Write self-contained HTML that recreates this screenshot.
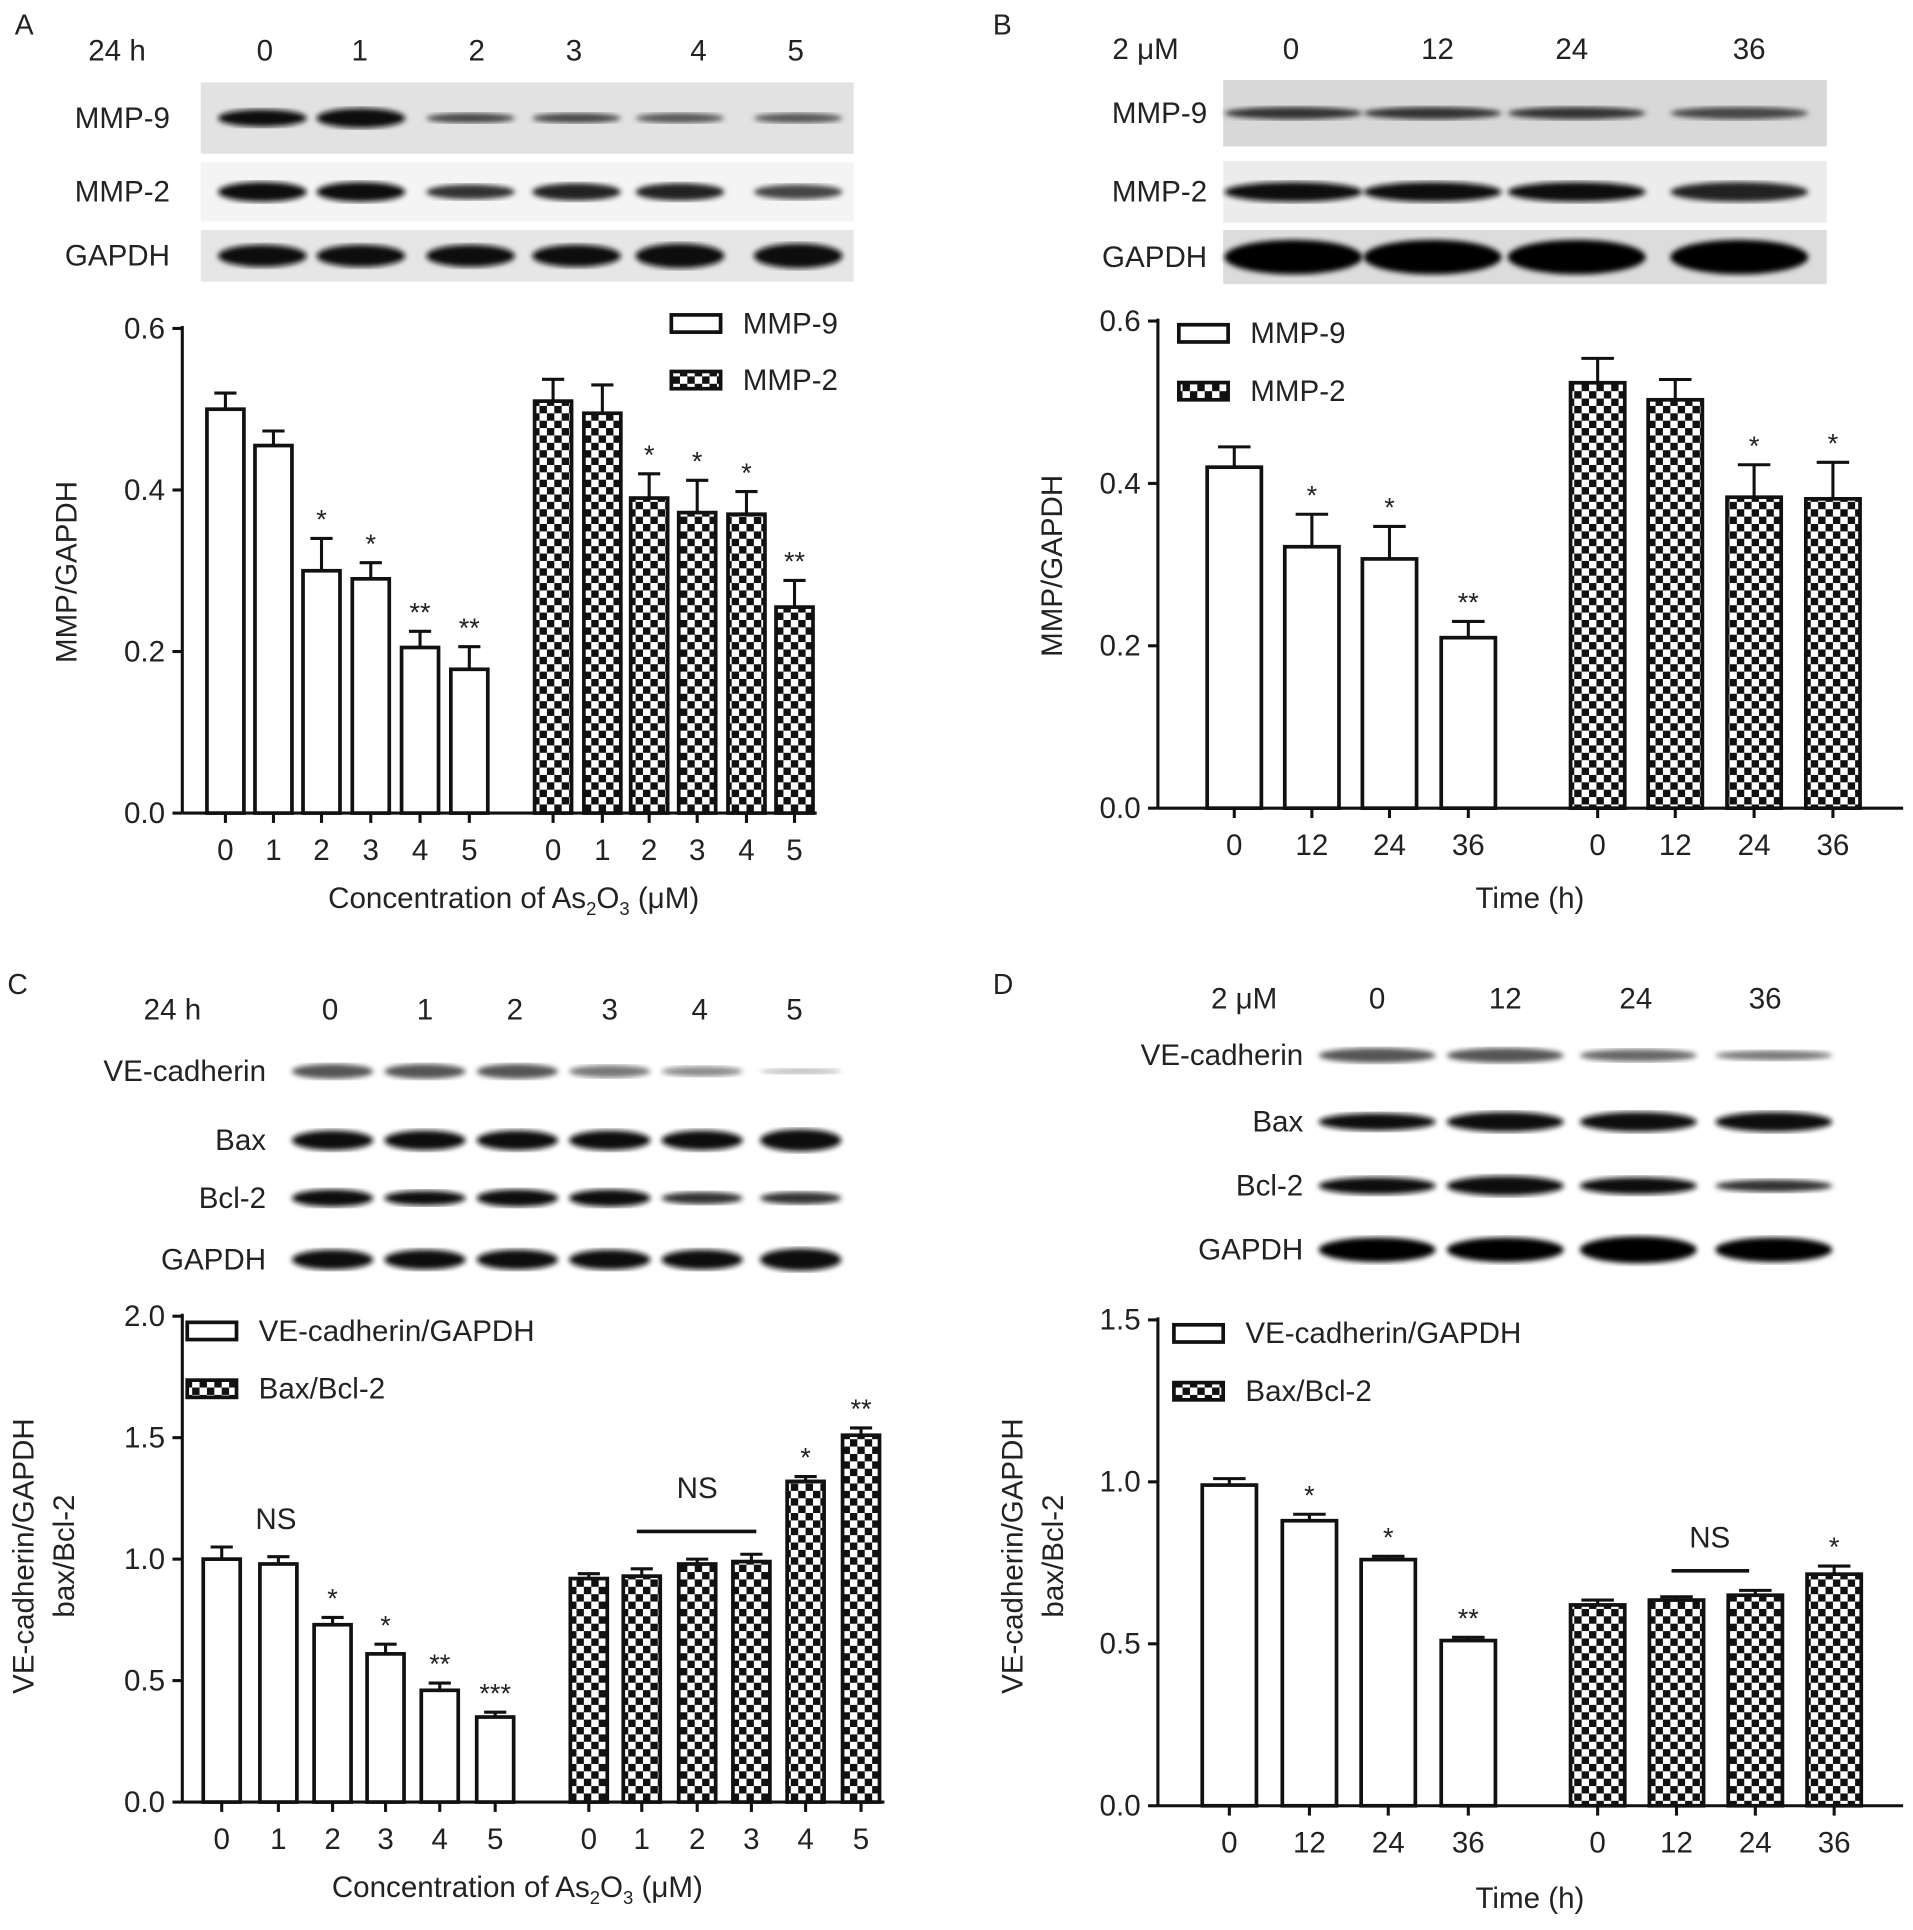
<!DOCTYPE html>
<html><head><meta charset="utf-8"><style>
html,body{margin:0;padding:0;background:#fff}
svg{display:block}
text{font-family:"Liberation Sans",Arial,sans-serif;fill:#222}
</style></head><body>
<svg id="fig" width="1913" height="1930" viewBox="0 0 1553 1569" preserveAspectRatio="none" xmlns="http://www.w3.org/2000/svg">
<defs>
<pattern id="chk" width="12" height="12" patternUnits="userSpaceOnUse">
<rect width="12" height="12" fill="#fff"/><rect width="6" height="6" fill="#111"/><rect x="6" y="6" width="6" height="6" fill="#111"/>
</pattern>
<filter id="blur"><feGaussianBlur stdDeviation="2.2"/></filter>
</defs>
<g id="root"></g>
</svg>
<script>
// ---------- data ----------
const aCats = ["0","1","2","3","4","5"];
const aMMP9 = [0.50,0.455,0.30,0.29,0.205,0.178];
const aMMP9err = [0.02,0.018,0.04,0.02,0.02,0.028];
const aMMP2 = [0.51,0.495,0.39,0.372,0.37,0.255];
const aMMP2err = [0.027,0.035,0.03,0.04,0.028,0.033];
const aSig1 = ["","","*","*","**","**"];
const aSig2 = ["","","*","*","*","**"];
const aTicks = [0,0.2,0.4,0.6];
const aTickLabels = ["0.0","0.2","0.4","0.6"];

const bCats = ["0","12","24","36"];
const bMMP9 = [0.42,0.322,0.307,0.21];
const bMMP9err = [0.025,0.04,0.04,0.02];
const bMMP2 = [0.524,0.503,0.383,0.381];
const bMMP2err = [0.03,0.025,0.04,0.045];
const bSig1 = ["","*","*","**"];
const bSig2 = ["","","*","*"];
const bTicks = [0,0.2,0.4,0.6];
const bTickLabels = ["0.0","0.2","0.4","0.6"];

const cCats = ["0","1","2","3","4","5"];
const cVE = [1.0,0.98,0.73,0.61,0.46,0.35];
const cVEerr = [0.05,0.03,0.03,0.04,0.03,0.02];
const cBax = [0.92,0.93,0.98,0.99,1.32,1.51];
const cBaxerr = [0.02,0.03,0.02,0.03,0.02,0.03];
const cSig1 = ["","","*","*","**","***"];
const cSig2 = ["","","","","*","**"];
const cTicks = [0,0.5,1.0,1.5,2.0];
const cTickLabels = ["0.0","0.5","1.0","1.5","2.0"];

const dCats = ["0","12","24","36"];
const dVE = [0.99,0.88,0.76,0.51];
const dVEerr = [0.02,0.02,0.01,0.01];
const dBax = [0.62,0.635,0.65,0.715];
const dBaxerr = [0.015,0.01,0.015,0.025];
const dSig1 = ["","*","*","**"];
const dSig2 = ["","","","*"];
const dTicks = [0,0.5,1.0,1.5];
const dTickLabels = ["0.0","0.5","1.0","1.5"];

// ---------- helpers ----------
const NS="http://www.w3.org/2000/svg";
const root=document.getElementById('root');
const FS=24;
function el(tag,attrs,parent){const e=document.createElementNS(NS,tag);for(const k in attrs)e.setAttribute(k,attrs[k]);(parent||root).appendChild(e);return e;}
function txt(x,y,s,size,anchor,parent,extra){const t=el('text',Object.assign({x:x,y:y,'font-size':size,'text-anchor':anchor||'middle'},extra||{}),parent);t.textContent=s;return t;}

function chart(cfg){
  const g=el('g',{});
  
  
  const y=v=>cfg.y0-(v/cfg.vmax)*(cfg.y0-cfg.y1);
  const ya=el('line',{x1:cfg.x0,y1:cfg.y1-2,x2:cfg.x0,y2:cfg.y0,stroke:'#111','stroke-width':2.5},g);
  
  
  const xa=el('line',{x1:cfg.x0,y1:cfg.y0,x2:cfg.xEnd,y2:cfg.y0,stroke:'#111','stroke-width':2.5},g);
  
  
  cfg.ticks.forEach((v,i)=>{
    el('line',{x1:cfg.x0-8,y1:y(v),x2:cfg.x0,y2:y(v),stroke:'#111','stroke-width':2.5},g);
    const t=txt(cfg.x0-14,y(v)+8,cfg.tickLabels[i],FS,'end',g);
    
    
  });
  const series=[[cfg.s1,cfg.e1,cfg.c1,cfg.sig1,'#fff'],[cfg.s2,cfg.e2,cfg.c2,cfg.sig2,'url(#chk)']];
  series.forEach((s,si)=>{
    s[0].forEach((v,i)=>{
      const cx=s[2][i];
      const top=y(v), eTop=y(v+s[1][i]);
      el('line',{x1:cx,y1:eTop,x2:cx,y2:top,stroke:'#111','stroke-width':2.5},g);
      el('line',{x1:cx-cfg.bw*0.3,y1:eTop,x2:cx+cfg.bw*0.3,y2:eTop,stroke:'#111','stroke-width':2.5},g);
      const r=el('rect',{x:cx-cfg.bw/2,y:top,width:cfg.bw,height:cfg.y0-top,fill:s[4],stroke:'#111','stroke-width':3},g);
      
      
      el('line',{x1:cx,y1:cfg.y0,x2:cx,y2:cfg.y0+8,stroke:'#111','stroke-width':2.5},g);
      const tl=txt(cx,cfg.y0+38,cfg.cats[i],FS,'middle',g);
      
      
      if(s[3][i]){
        const st=txt(cx,eTop-8,s[3][i],22,'middle',g,{fill:'#555'});
        
        
      }
    });
  });
  [[cfg.l1,'#fff'],[cfg.l2,'url(#chk)']].forEach((l,i)=>{
    const ly=cfg.ly+i*cfg.lgap;
    const lr=el('rect',{x:cfg.lx,y:ly,width:40,height:14,fill:l[1],stroke:'#111','stroke-width':3},g);
    
    
    const lt=txt(cfg.lx+58,ly+15,l[0],FS,'start',g);
    
    
  });
  return {g,y};
}

function blot(cfg){
  const g=el('g',{});
  
  
  cfg.rows.forEach(r=>{
    if(r.bg){el('rect',{x:cfg.bx0,y:r.yc-r.h/2,width:cfg.bx1-cfg.bx0,height:r.h,fill:r.bg},g);}
    const lab=txt(cfg.labX,r.yc+8,r.label,FS,cfg.labAnchor||'end',g);
    
    
    cfg.lanes.forEach((lx,i)=>{
      const b=el('ellipse',{cx:lx,cy:r.yc,rx:cfg.bandW/2,ry:r.bh[i],fill:r.col[i],filter:'url(#blur)'},g);
      
      
    });
  });
  const hl=txt(cfg.hx,cfg.hy,cfg.head,FS,'middle',g);
  
  
  cfg.laneLabels.forEach((s,i)=>{
    const t=txt(cfg.laneLabelX[i],cfg.hy,s,FS,'middle',g);
    
    
  });
}

[["A",12,28],["B",806,28],["C",6,808],["D",806,808]].forEach(p=>{
  const t=txt(p[1],p[2],p[0],23,'start');
  
  
});

// ---------- blots ----------
blot({name:'blot-a',bx0:163,bx1:693,lanes:[213,293,382,468,552,648],bandW:72,head:'24 h',hx:95,hy:49,
  laneLabels:aCats,laneLabelX:[215,292,387,466,567,646],labX:138,
  rows:[
   {label:'MMP-9',yc:96,h:58,bg:'#e2e2e2',bh:[7,8,4,4,4,4],col:['#111','#0a0a0a','#444','#444','#555','#555']},
   {label:'MMP-2',yc:156,h:48,bg:'#f4f4f4',bh:[8,8,6,7,7,6],col:['#111','#111','#333','#222','#222','#444']},
   {label:'GAPDH',yc:208,h:42,bg:'#e6e6e6',bh:[9,9,9,9,10,10],col:['#0a0a0a','#0a0a0a','#0a0a0a','#0a0a0a','#0a0a0a','#0a0a0a']}
  ]});
blot({name:'blot-b',bx0:993,bx1:1483,lanes:[1050,1163,1280,1412],bandW:112,head:'2 μM',hx:930,hy:48,
  laneLabels:bCats,laneLabelX:[1048,1167,1276,1420],labX:980,
  rows:[
   {label:'MMP-9',yc:92,h:54,bg:'#d8d8d8',bh:[5,5,5,5],col:['#333','#333','#333','#444']},
   {label:'MMP-2',yc:156,h:50,bg:'#ececec',bh:[8,8,8,8],col:['#111','#111','#111','#222']},
   {label:'GAPDH',yc:209,h:44,bg:'#dcdcdc',bh:[14,14,14,14],col:['#000','#000','#000','#000']}
  ]});
blot({name:'blot-c',lanes:[270,345,420,495,570,650],bandW:66,head:'24 h',hx:140,hy:829,
  laneLabels:cCats,laneLabelX:[268,345,418,495,568,645],labX:216,
  rows:[
   {label:'VE-cadherin',yc:871,bh:[6,6,6,5,4,2],col:['#555','#555','#555','#777','#888','#aaa']},
   {label:'Bax',yc:927,bh:[8,8,8,8,8,9],col:['#111','#111','#111','#111','#111','#111']},
   {label:'Bcl-2',yc:974,bh:[7,6,7,7,5,5],col:['#111','#111','#111','#111','#333','#333']},
   {label:'GAPDH',yc:1024,bh:[8,8,8,8,8,9],col:['#111','#111','#111','#111','#111','#111']}
  ]});
blot({name:'blot-d',lanes:[1118,1222,1330,1440],bandW:95,head:'2 μM',hx:1010,hy:820,
  laneLabels:dCats,laneLabelX:[1118,1222,1328,1433],labX:1058,
  rows:[
   {label:'VE-cadherin',yc:858,bh:[6,6,5,4],col:['#555','#555','#666','#777']},
   {label:'Bax',yc:912,bh:[7,8,8,8],col:['#111','#111','#111','#111']},
   {label:'Bcl-2',yc:964,bh:[7,8,7,5],col:['#111','#111','#111','#333']},
   {label:'GAPDH',yc:1016,bh:[10,10,11,10],col:['#000','#000','#000','#000']}
  ]});

// ---------- charts ----------
chart({name:'chart-a',x0:148,xEnd:663,y0:661,y1:267,vmax:0.6,ticks:aTicks,tickLabels:aTickLabels,bw:30,
  cats:aCats,s1:aMMP9,e1:aMMP9err,s2:aMMP2,e2:aMMP2err,sig1:aSig1,sig2:aSig2,n1:'mmp9',n2:'mmp2',
  c1:[183,222,261,301,341,381],c2:[449,489,527,566,606,645],l1:'MMP-9',l2:'MMP-2',lx:545,ly:256,lgap:46});
chart({name:'chart-b',x0:940,xEnd:1545,y0:657,y1:261,vmax:0.6,ticks:bTicks,tickLabels:bTickLabels,bw:44,
  cats:bCats,s1:bMMP9,e1:bMMP9err,s2:bMMP2,e2:bMMP2err,sig1:bSig1,sig2:bSig2,n1:'mmp9',n2:'mmp2',
  c1:[1002,1065,1128,1192],c2:[1297,1360,1424,1488],l1:'MMP-9',l2:'MMP-2',lx:957,ly:264,lgap:47});
chart({name:'chart-c',x0:148,xEnd:718,y0:1465,y1:1070,vmax:2.0,ticks:cTicks,tickLabels:cTickLabels,bw:30,
  cats:cCats,s1:cVE,e1:cVEerr,s2:cBax,e2:cBaxerr,sig1:cSig1,sig2:cSig2,n1:'ve-cadherin',n2:'bax-bcl2',
  c1:[180,226,270,313,357,402],c2:[478,521,566,610,654,699],l1:'VE-cadherin/GAPDH',l2:'Bax/Bcl-2',lx:152,ly:1075,lgap:47});
chart({name:'chart-d',x0:940,xEnd:1545,y0:1468,y1:1073,vmax:1.5,ticks:dTicks,tickLabels:dTickLabels,bw:44,
  cats:dCats,s1:dVE,e1:dVEerr,s2:dBax,e2:dBaxerr,sig1:dSig1,sig2:dSig2,n1:'ve-cadherin',n2:'bax-bcl2',
  c1:[998,1063,1127,1192],c2:[1297,1361,1425,1489],l1:'VE-cadherin/GAPDH',l2:'Bax/Bcl-2',lx:953,ly:1077,lgap:47});

function ns(x1,x2,yl,tx,ty,name){
  if(x2>x1){const l=el('line',{x1:x1,y1:yl,x2:x2,y2:yl,stroke:'#111','stroke-width':3});
  
  }
  const t=txt(tx,ty,'NS',FS,'middle');
  
  
}
ns(0,0,0,224,1243,'ns-label-c1');
ns(517,614,1245,566,1218,'ns-label-c2');
ns(1357,1420,1277,1388,1258,'ns-label-d');

function ytitle(x,yc,s,name){const t=txt(x,yc,s,FS,'middle',null,{transform:'rotate(-90 '+x+' '+yc+')'});
  
  }
ytitle(62,465,'MMP/GAPDH','y-axis-title-a');
ytitle(862,460,'MMP/GAPDH','y-axis-title-b');
ytitle(27,1265,'VE-cadherin/GAPDH','y-axis-title-c');
ytitle(60,1265,'bax/Bcl-2','y-axis-title-c2');
ytitle(830,1265,'VE-cadherin/GAPDH','y-axis-title-d');
ytitle(863,1265,'bax/Bcl-2','y-axis-title-d2');

function xtitleConc(cx,y,name){
  const t=el('text',{x:cx,y:y,'font-size':FS,'text-anchor':'middle'});
  
  
  t.innerHTML='Concentration of As<tspan dy="6" font-size="15">2</tspan><tspan dy="-6">O</tspan><tspan dy="6" font-size="15">3</tspan><tspan dy="-6"> (μM)</tspan>';
}
xtitleConc(417,738,'x-axis-title-a');
xtitleConc(420,1542,'x-axis-title-c');
const xb=txt(1242,738,'Time (h)',FS,'middle');


const xd=txt(1242,1551,'Time (h)',FS,'middle');


</script>
</body></html>
